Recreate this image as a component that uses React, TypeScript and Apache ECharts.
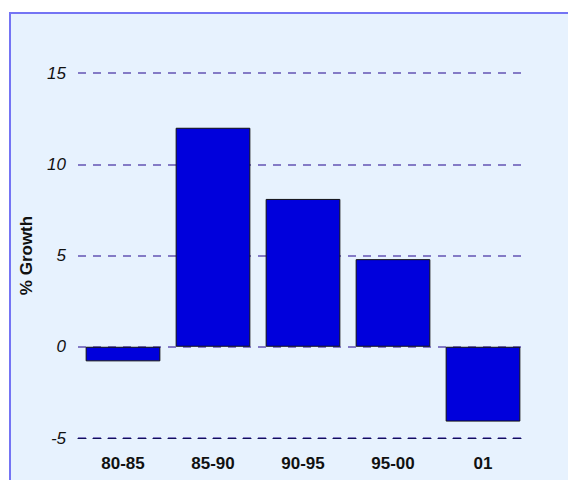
import { useRef, useEffect } from 'react'
import * as echarts from 'echarts'

const categories = ['80-85', '85-90', '90-95', '95-00', '01']
const growth = [-0.8, 12, 8.1, 4.8, -4.1]
const yTicks = [-5, 0, 5, 10, 15]

function App() {
  const chartRef = useRef<HTMLDivElement>(null)

  useEffect(() => {
    if (!chartRef.current) return
    const myChart = echarts.init(chartRef.current, undefined, { renderer: 'svg' })
    const option = {
      animation: false,
      backgroundColor: '#ffffff',
      graphic: [
        {
          type: 'rect',
          z: -10,
          shape: { x: 10, y: 13, width: 580, height: 500 },
          style: { fill: '#e7f2fe', stroke: '#7474f4', lineWidth: 2 },
          silent: true
        }
      ],
      grid: { left: 78, right: 40, top: 73, bottom: 42 },
      xAxis: {
        type: 'category',
        data: categories,
        axisLine: {
          onZero: false,
          lineStyle: { color: '#10105a', type: [8, 7], width: 1.2 }
        },
        axisTick: { alignWithLabel: true, length: 8, lineStyle: { color: '#10105a' } },
        axisLabel: {
          margin: 17,
          color: '#111',
          fontFamily: 'Liberation Sans, Arial, sans-serif',
          fontWeight: 'bold',
          fontSize: 17
        },
        splitLine: { show: false }
      },
      yAxis: {
        type: 'value',
        min: yTicks[0],
        max: yTicks[yTicks.length - 1],
        interval: 5,
        name: '% Growth',
        nameLocation: 'middle',
        nameGap: 43,
        nameTextStyle: {
          color: '#111',
          fontFamily: 'Liberation Sans, Arial, sans-serif',
          fontWeight: 'bold',
          fontSize: 17
        },
        axisLine: { show: false },
        axisTick: { show: false },
        axisLabel: {
          margin: 12,
          color: '#111',
          fontFamily: 'Liberation Sans, Arial, sans-serif',
          fontStyle: 'italic',
          fontSize: 17
        },
        splitLine: { lineStyle: { color: '#6454b4', type: [8, 7], width: 1.5 } }
      },
      series: [
        {
          type: 'bar',
          data: growth,
          barCategoryGap: '17%',
          itemStyle: { color: '#0000dc', borderColor: '#111', borderWidth: 1 }
        }
      ]
    }
    myChart.setOption(option)
    return () => {
      myChart.dispose()
    }
  }, [])

  return (
    <div
      ref={chartRef}
      style={{ position: 'fixed', left: 0, top: 0, width: '568px', height: '480px' }}
    ></div>
  )
}

export default App
